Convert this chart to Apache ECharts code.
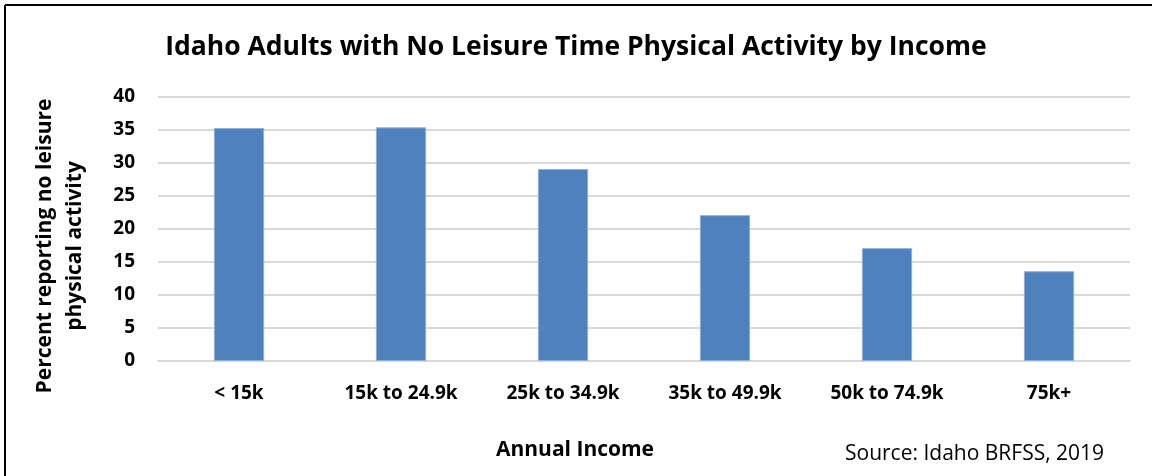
<!DOCTYPE html>
<html>
<head>
<meta charset="utf-8">
<script src="https://cdn.jsdelivr.net/npm/echarts@6/dist/echarts.min.js"></script>
<style>
  html, body { margin: 0; padding: 0; background: #fff; }
  #chart { width: 1152px; height: 476px; }
</style>
</head>
<body>
<div id="chart"></div>
<script>
// income groups and percent with no leisure time physical activity
var categories = ['< 15k', '15k to 24.9k', '25k to 34.9k', '35k to 49.9k', '50k to 74.9k', '75k+'];
var percentNoActivity = [35.3, 35.4, 29.1, 22.1, 17.1, 13.6];

var fontFamily = '"Open Sans", sans-serif';

var chart = echarts.init(document.getElementById('chart'));
chart.setOption({
  animation: false,
  title: {
    text: 'Idaho Adults with No Leisure Time Physical Activity by Income',
    left: 'center',
    top: 29,
    textStyle: { fontFamily: fontFamily, fontSize: 26.5, fontWeight: 'bold', color: '#000' }
  },
  graphic: [
    { type: 'line', shape: { x1: 5, y1: 5, x2: 1152, y2: 5 }, style: { stroke: '#000', lineWidth: 2 } },
    { type: 'line', shape: { x1: 5, y1: 5, x2: 5, y2: 476 }, style: { stroke: '#000', lineWidth: 2 } },
    {
      // y axis title, placed by hand since it sits below the grid middle
      type: 'text', x: 60, y: 246, rotation: Math.PI / 2,
      style: {
        text: 'Percent reporting no leisure\nphysical activity',
        font: 'bold 21px "Open Sans", sans-serif', fill: '#000',
        align: 'center', verticalAlign: 'middle', lineHeight: 30
      }
    },
    {
      type: 'text', x: 575, y: 450,
      style: {
        text: 'Annual Income', font: 'bold 21px "Open Sans", sans-serif', fill: '#000',
        align: 'center', verticalAlign: 'middle'
      }
    },
    {
      type: 'text', x: 845, y: 454,
      style: {
        text: 'Source: Idaho BRFSS, 2019', font: '21px "Open Sans", sans-serif', fill: '#000',
        align: 'left', verticalAlign: 'middle'
      }
    }
  ],
  grid: { left: 158, right: 22, top: 97, bottom: 115 },
  xAxis: {
    type: 'category',
    data: categories,
    axisLine: { lineStyle: { color: '#d9d9d9', width: 2 } },
    axisTick: { show: false },
    axisLabel: { fontFamily: fontFamily, fontSize: 19, fontWeight: 'bold', color: '#000', margin: 23 }
  },
  yAxis: {
    type: 'value',
    min: 0,
    max: 40,
    interval: 5,
    axisLine: { show: false },
    axisTick: { show: false },
    axisLabel: { fontFamily: fontFamily, fontSize: 19, fontWeight: 'bold', color: '#000', margin: 23 },
    splitLine: { lineStyle: { color: '#d9d9d9', width: 2 } }
  },
  series: [{
    type: 'bar',
    data: percentNoActivity,
    barWidth: '31%',
    itemStyle: { color: '#4f81bd', borderColor: '#8fb0d8', borderWidth: 1 }
  }]
});
</script>
</body>
</html>
